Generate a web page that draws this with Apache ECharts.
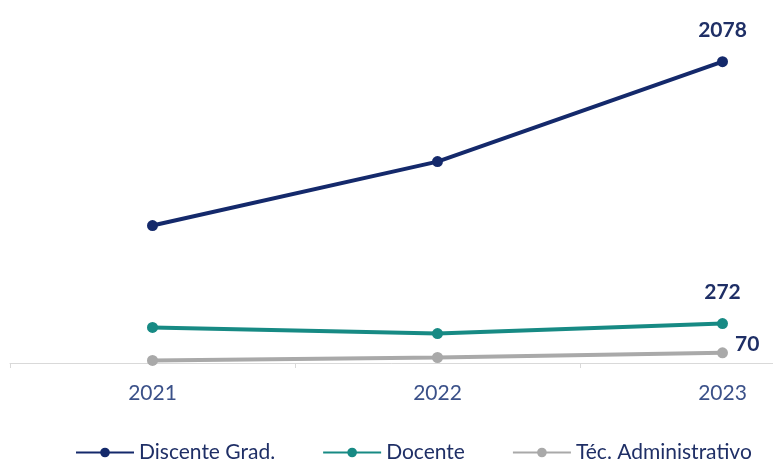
<!DOCTYPE html>
<html>
<head>
<meta charset="utf-8">
<script src="https://cdn.jsdelivr.net/npm/echarts@6/dist/echarts.min.js"></script>
<style>html,body{margin:0;padding:0;background:#fff}#c{width:773px;height:461px}</style>
</head>
<body>
<div id="c"></div>
<script>
const years = ['2021', '2022', '2023'];
const discente = [948, 1389, 2078];
const docente = [245, 203, 272];
const tecnico = [18, 38, 70];
const seriesNames = ['Discente Grad.', 'Docente', 'Téc. Administrativo'];

const labelColor = '#1f2f66';
const font = 'Lato';
const chart = echarts.init(document.getElementById('c'));

function lastLabel(data, pos, offset) {
  return data.map((v, i) => i === data.length - 1 ? {
    value: v,
    label: { show: true, position: pos, offset: offset, color: labelColor, fontWeight: 'bold', fontSize: 21, fontFamily: font }
  } : v);
}

chart.setOption({
  animation: false,
  grid: { left: 10, width: 855, top: 15, bottom: 98, outerBoundsMode: 'none', containLabel: false },
  xAxis: {
    type: 'category',
    data: years,
    boundaryGap: true,
    axisLine: { lineStyle: { color: '#d9d9d9', width: 1 } },
    axisTick: { show: true, length: 5, lineStyle: { color: '#d9d9d9' } },
    axisLabel: { color: '#3b5189', fontSize: 21, fontFamily: font, margin: 20 }
  },
  yAxis: {
    type: 'value', min: 0, max: 2400, show: false,
    splitLine: { show: false }
  },
  legend: {
    bottom: -7, left: 70,
    itemWidth: 58, itemHeight: 12, itemGap: 47,
    textStyle: { color: labelColor, fontSize: 21, fontFamily: font }
  },
  series: [
    { name: seriesNames[0], type: 'line', data: lastLabel(discente, 'top', [0, -10]), color: '#14296b',
      lineStyle: { width: 4 }, symbol: 'circle', symbolSize: 11 },
    { name: seriesNames[1], type: 'line', data: lastLabel(docente, 'top', [0, -10]), color: '#178a84',
      lineStyle: { width: 4 }, symbol: 'circle', symbolSize: 11 },
    { name: seriesNames[2], type: 'line', data: lastLabel(tecnico, 'right', [2, -9]), color: '#a9a9a9',
      lineStyle: { width: 4 }, symbol: 'circle', symbolSize: 11 }
  ]
});
</script>
</body>
</html>
